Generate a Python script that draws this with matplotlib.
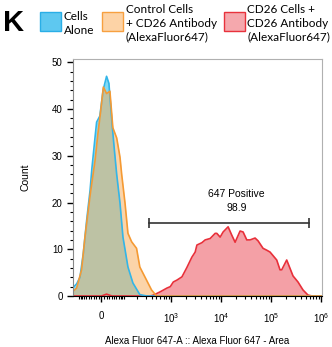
import numpy as np
import matplotlib
matplotlib.use('Agg')
import matplotlib.pyplot as plt
from matplotlib.patches import Rectangle

plt.rcParams['font.family'] = ['Liberation Sans', 'DejaVu Sans']
plt.rcParams['mathtext.default'] = 'regular'

# histogram values (fluorescence, count)
cells_x = [-138, -113, -93, -75, -59, -44, -37, -24, -18, -6, 6, 19, 28, 42, 51, 61,
           77, 93, 124, 161, 228, 319, 1.05e6]
cells_y = [1.8, 2.6, 4.0, 9.2, 16.2, 22.6, 27.0, 34.0, 37.2, 38.5, 44.0, 47.0, 45.5,
           36.0, 31.0, 26.0, 19.9, 12.6, 6.2, 2.8, 0.3, 0.0, 0.0]

ctrl_x = [-138, -113, -84, -67, -44, -24, -13, -2, 7, 19, 32, 44, 61, 77, 86, 105,
          124, 151, 194, 228, 315, 399, 505, 1.05e6]
ctrl_y = [1.0, 1.7, 5.6, 12.6, 21.5, 29.0, 34.8, 40.0, 44.7, 43.3, 43.8, 36.0, 33.8,
          29.7, 26.0, 19.9, 13.4, 11.6, 10.2, 6.2, 3.4, 1.3, 0.0, 0.0]

cd26_x = [-138, 0, 19, 40, 300, 380, 440, 600, 820, 955, 1100, 1300, 1640, 2060, 2590,
          3020, 3270, 4110, 4790, 6030, 7590, 8200, 9550, 10970, 13800, 16370, 19060,
          23990, 27540, 32660, 38020, 47860, 54950, 69180, 82040, 95500, 130000,
          151400, 163700, 206100, 218800, 275400, 346700, 436500, 549500, 660700, 1.05e6]
cd26_y = [0, 0, 0.4, 0, 0, 0, 0.2, 0.9, 1.7, 2.0, 3.0, 3.4, 4.1, 6.1, 8.3,
          9.4, 10.9, 11.4, 12.0, 12.3, 13.4, 13.4, 12.6, 13.7, 14.8, 13.0, 11.5,
          13.9, 13.7, 12.0, 12.0, 12.4, 11.8, 10.2, 9.8, 9.4, 7.7,
          5.6, 5.6, 7.7, 7.0, 4.3, 3.0, 1.3, 0.2, 0, 0]

gate_lo, gate_hi, gate_y = 357, 583000, 15.7
gate_name, gate_pct = '647 Positive', '98.9'

xmajor = [0, 1e3, 1e4, 1e5, 1e6]
xmajor_labels = ['0', '$10^3$', '$10^4$', '$10^5$', '$10^6$']
xminor = list(range(-100, 101, 10)) + [k * 10**n for n in range(2, 6) for k in range(2, 10)]

W = 80.0
def fwd(x):
    return np.arcsinh(np.asarray(x, dtype=float) / W)
def inv(y):
    return W * np.sinh(y)

fig = plt.figure(figsize=(3.32, 3.47), dpi=100)
ax = fig.add_axes([73/332, 51/347, 249/332, 237/347])
ax.set_xscale('function', functions=(fwd, inv))

ax.fill_between(cd26_x, cd26_y, color='#f4a0a6', lw=0)
ax.plot(cd26_x, cd26_y, color='#e8303a', lw=1.2)
ax.fill_between(cells_x, cells_y, color='#40c8f0', alpha=0.65, lw=0)
ax.plot(cells_x, cells_y, color='#33b5e8', lw=1.2)
ax.fill_between(ctrl_x, ctrl_y, color='#f8ab55', alpha=0.5, lw=0)
ax.plot(ctrl_x, ctrl_y, color='#f59a33', lw=1.2)

ax.plot([gate_lo, gate_hi], [gate_y, gate_y], color='#333333', lw=1.2,
        marker='|', ms=7, mew=1.2)
ax.text(20600, 21.8, gate_name, ha='center', va='center', fontsize=7.5)
ax.text(20600, 18.8, gate_pct, ha='center', va='center', fontsize=7.5)

ax.set_xlim(-138, 1.05e6)
ax.set_ylim(0, 50.7)
ax.set_xticks(xmajor, labels=xmajor_labels)
ax.set_xticks(xminor, minor=True)
ax.set_yticks(range(0, 51, 10))
ax.set_yticks(range(0, 51, 2), minor=True)
ax.tick_params(axis='both', which='major', labelsize=7, length=4, width=1)
ax.tick_params(axis='both', which='minor', length=2.5, width=0.8)
ax.tick_params(axis='x', which='major', pad=7)

for s in ['top', 'right']:
    ax.spines[s].set_color('#b0b0b0')
    ax.spines[s].set_linewidth(0.8)
ax.spines['left'].set_color('#888888')
ax.spines['left'].set_linewidth(0.8)

ax.set_ylabel('Count', fontsize=7.5, labelpad=15)
ax.set_xlabel('Alexa Fluor 647-A :: Alexa Fluor 647 - Area', fontsize=7, labelpad=8)

# legend drawn by hand along the top
fig.text(3/332, 1 - 23/347, 'K', fontsize=21, fontweight='bold', va='center', ha='left')
legend_items = [
    ('Cells\nAlone', '#5ec8f0', '#2aaee6', 40, 64),
    ('Control Cells\n+ CD26 Antibody\n(AlexaFluor647)', '#fdd3a6', '#f7a040', 102, 126),
    ('CD26 Cells +\nCD26 Antibody\n(AlexaFluor647)', '#f5a8ad', '#e8323c', 224, 247),
]
for label, fc, ec, px, tx in legend_items:
    fig.patches.append(Rectangle((px/332, 1 - 31/347), 21/332, 19/347,
                                 transform=fig.transFigure, facecolor=fc,
                                 edgecolor=ec, lw=1))
    fig.text(tx/332, 1 - 23.5/347, label, fontsize=8.5, va='center', ha='left',
             linespacing=1.3, family=['Lato', 'DejaVu Sans'])

fig.savefig('out.png', dpi=100)
